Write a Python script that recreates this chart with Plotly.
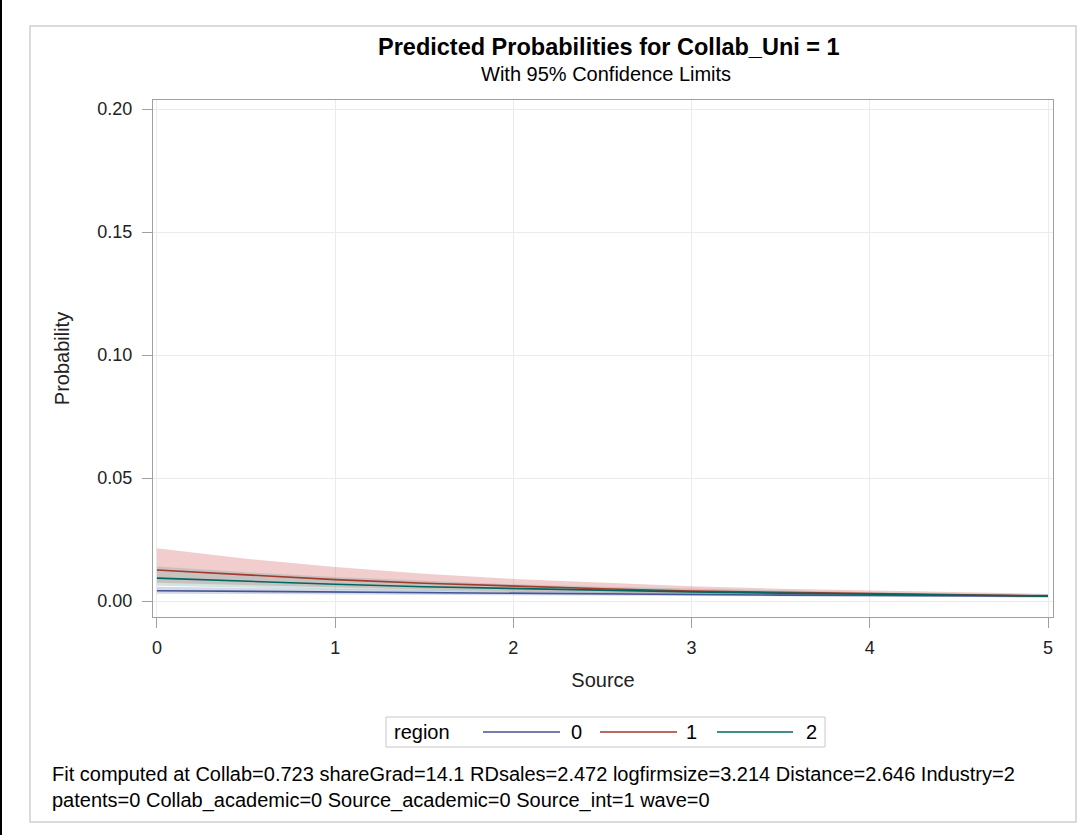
import plotly.graph_objects as go

source = [0, 0.5, 1, 1.5, 2, 2.5, 3, 3.5, 4, 4.5, 5]

# region 0 (blue)
p0 = [0.0042, 0.0039, 0.0036, 0.0033, 0.0031, 0.0028, 0.0026, 0.0024, 0.0023, 0.0021, 0.0020]
lo0 = [0.0030, 0.0028, 0.0027, 0.0025, 0.0023, 0.0022, 0.0020, 0.0019, 0.0017, 0.0016, 0.0015]
hi0 = [0.0058, 0.0053, 0.0048, 0.0044, 0.0041, 0.0037, 0.0034, 0.0031, 0.0029, 0.0027, 0.0026]
# region 1 (red)
p1 = [0.0126, 0.0105, 0.0087, 0.0072, 0.0060, 0.0050, 0.0041, 0.0035, 0.0029, 0.0024, 0.0020]
lo1 = [0.0074, 0.0064, 0.0055, 0.0047, 0.0040, 0.0034, 0.0028, 0.0024, 0.0020, 0.0017, 0.0014]
hi1 = [0.0215, 0.0172, 0.0138, 0.0111, 0.0090, 0.0074, 0.0060, 0.0050, 0.0042, 0.0035, 0.0029]
# region 2 (teal)
p2 = [0.0093, 0.0080, 0.0068, 0.0058, 0.0050, 0.0043, 0.0037, 0.0032, 0.0027, 0.0023, 0.0020]
lo2 = [0.0062, 0.0054, 0.0047, 0.0042, 0.0037, 0.0032, 0.0027, 0.0023, 0.0020, 0.0017, 0.0015]
hi2 = [0.0140, 0.0117, 0.0098, 0.0082, 0.0068, 0.0058, 0.0050, 0.0042, 0.0036, 0.0031, 0.0027]

regions = ["0", "1", "2"]
x_ticks = [0, 1, 2, 3, 4, 5]
y_ticks = [0.00, 0.05, 0.10, 0.15, 0.20]
y_tick_labels = ["0.00", "0.05", "0.10", "0.15", "0.20"]
line_colors = ["#445694", "#A23A2E", "#01665E"]
band_colors = ["rgba(111,126,179,0.30)", "rgba(208,91,91,0.30)", "rgba(102,165,160,0.30)"]

W, H = 1083, 835
L, R, T, B = 153, 1053, 100, 617  # plot area in pixels


def px(x):
    return (x - L) / (R - L)


def py(y):
    return (B - y) / (B - T)


fig = go.Figure()
for p, lo, hi, bc in zip([p0, p1, p2], [lo0, lo1, lo2], [hi0, hi1, hi2], band_colors):
    fig.add_trace(go.Scatter(x=source, y=hi, mode="lines", line=dict(width=0), showlegend=False, hoverinfo="skip"))
    fig.add_trace(go.Scatter(x=source, y=lo, mode="lines", line=dict(width=0), fill="tonexty",
                             fillcolor=bc, showlegend=False, hoverinfo="skip"))
for name, p, lc in zip(regions, [p0, p1, p2], line_colors):
    fig.add_trace(go.Scatter(x=source, y=p, mode="lines", name=name, showlegend=False,
                             line=dict(color=lc, width=1.6)))

font = "Liberation Sans, Arial, sans-serif"
axis_common = dict(showline=True, linecolor="#A0A0A0", linewidth=1, mirror=True,
                   showgrid=True, gridcolor="#EBEBEB", gridwidth=1, zeroline=False,
                   ticks="outside", ticklen=10, tickcolor="#A0A0A0",
                   tickfont=dict(family=font, size=18, color="#222222"))

annotations = [
    dict(text="<b>Predicted Probabilities for Collab_Uni = 1</b>", xref="paper", yref="paper",
         x=px(609), y=py(47), xanchor="center", yanchor="middle", showarrow=False,
         font=dict(family=font, size=23.5, color="#000000")),
    dict(text="With 95% Confidence Limits", xref="paper", yref="paper",
         x=px(606), y=py(74), xanchor="center", yanchor="middle", showarrow=False,
         font=dict(family=font, size=20, color="#000000")),
    dict(text="Fit computed at Collab=0.723 shareGrad=14.1 RDsales=2.472 logfirmsize=3.214 Distance=2.646 Industry=2<br>"
              "patents=0 Collab_academic=0 Source_academic=0 Source_int=1 wave=0",
         xref="paper", yref="paper", x=px(50), y=py(761),
         xanchor="left", yanchor="top", align="left", showarrow=False,
         font=dict(family=font, size=20, color="#000000")),
    # legend text
    dict(text="region", xref="paper", yref="paper", x=px(392), y=py(732), xanchor="left", yanchor="middle",
         showarrow=False, font=dict(family=font, size=20, color="#000000")),
]

shapes = [
    dict(type="rect", xref="paper", yref="paper", x0=px(30), x1=px(1076), y0=py(822), y1=py(26),
         line=dict(color="#D0D0D0", width=1.5), layer="below"),
    dict(type="line", xref="paper", yref="paper", x0=px(1), x1=px(1), y0=py(835), y1=py(0),
         line=dict(color="#000000", width=2)),
    # legend box
    dict(type="rect", xref="paper", yref="paper", x0=px(386), x1=px(825), y0=py(747), y1=py(717),
         line=dict(color="#C8C8C8", width=1), fillcolor="white"),
]

leg_line_x = [(483, 560), (600, 677), (717, 793)]
leg_label_x = [576, 691, 811]
for name, lc, (a, b), lx in zip(regions, line_colors, leg_line_x, leg_label_x):
    shapes.append(dict(type="line", xref="paper", yref="paper", x0=px(a), x1=px(b), y0=py(732), y1=py(732),
                       line=dict(color=lc, width=1.5)))
    annotations.append(dict(text=name, xref="paper", yref="paper", x=px(lx), y=py(732),
                            xanchor="center", yanchor="middle", showarrow=False,
                            font=dict(family=font, size=20, color="#000000")))

fig.update_layout(
    width=W, height=H,
    margin=dict(l=L, r=W - R, t=T, b=H - B),
    paper_bgcolor="white", plot_bgcolor="white",
    font=dict(family=font, color="#222222"),
    xaxis=dict(range=[-0.022, 5.028], tickvals=x_ticks, ticktext=[str(v) for v in x_ticks],
               ticklabelstandoff=4,
               title=dict(text="Source", font=dict(family=font, size=20, color="#222222"), standoff=16),
               **axis_common),
    yaxis=dict(range=[-0.0065, 0.2037], tickvals=y_ticks, ticktext=y_tick_labels,
               ticklabelstandoff=6,
               title=dict(text="Probability", font=dict(family=font, size=20, color="#222222"), standoff=22),
               **axis_common),
    showlegend=False,
    annotations=annotations,
    shapes=shapes,
)

fig.write_html("out.html", config={"displayModeBar": False},
               post_script="document.body.style.margin='0';document.body.style.overflow='hidden';")
